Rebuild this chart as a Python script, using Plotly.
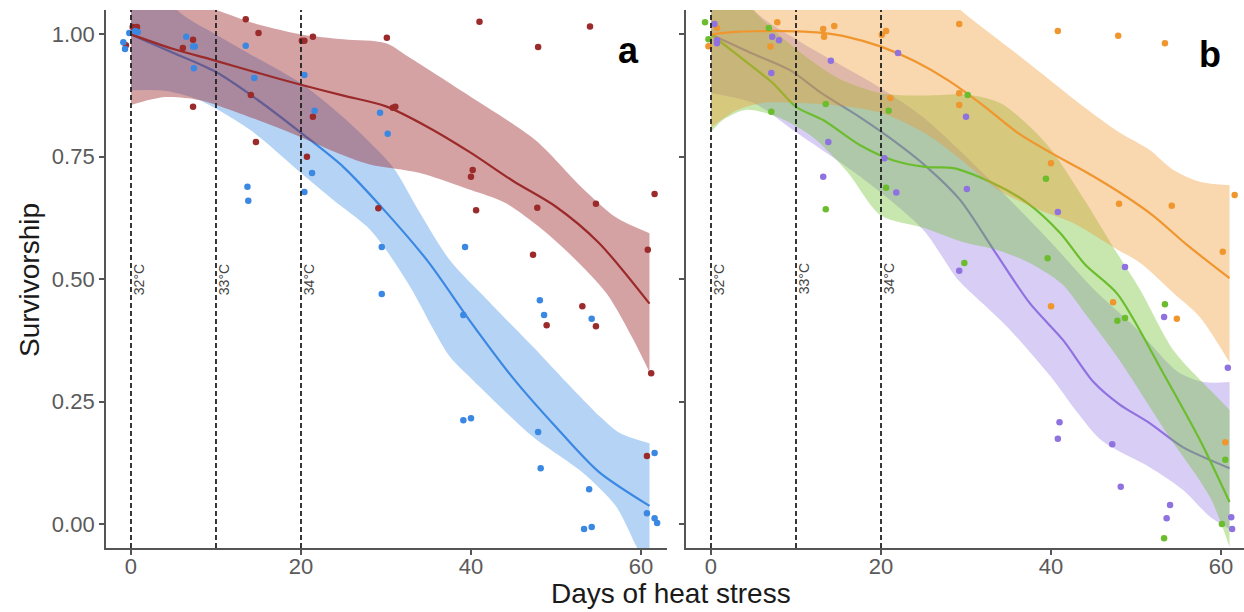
import plotly.graph_objects as go

# ---------------- Panel a ----------------
red_x = [-0.6, 0.2, 0.7, 6.1, 7.3, 7.3, 13.5, 15.0, 14.1, 14.7, 20.1, 20.4, 21.4, 20.7, 21.4,
         30.1, 30.8, 31.1, 29.1, 41.0, 54.0, 47.9, 40.2, 40.0, 40.6, 47.8, 54.7, 61.6, 60.8,
         47.3, 53.1, 48.9, 54.7, 61.2, 60.7]
red_y = [0.978, 1.015, 1.015, 0.972, 0.989, 0.852, 1.031, 1.003, 0.876, 0.780, 0.987, 0.987, 0.995, 0.750, 0.832,
         0.993, 0.850, 0.852, 0.645, 1.026, 1.016, 0.974, 0.723, 0.709, 0.641, 0.646, 0.654, 0.674, 0.560,
         0.550, 0.445, 0.406, 0.404, 0.308, 0.139]

blue_x = [-0.9, -0.7, -0.2, 0.5, 0.8, 6.5, 7.5, 7.3, 7.4, 13.5, 14.5, 13.7, 13.8, 20.4, 21.6, 21.3, 20.4,
          29.3, 30.2, 29.5, 29.5, 39.3, 39.1, 39.1, 40.0, 48.1, 48.6, 47.9, 48.2, 54.2, 53.9, 53.3, 54.2,
          61.6, 60.7, 61.6, 61.9]
blue_y = [0.984, 0.970, 1.003, 1.007, 1.005, 0.995, 0.975, 0.975, 0.931, 0.977, 0.911, 0.689, 0.660, 0.917, 0.844, 0.717, 0.678,
          0.840, 0.797, 0.566, 0.470, 0.566, 0.427, 0.212, 0.216, 0.457, 0.427, 0.188, 0.114, 0.419, 0.071, -0.010, -0.006,
          0.145, 0.022, 0.012, 0.002]

red_fit_x = [0, 5, 10, 15, 20, 25, 30, 35, 40, 45, 50, 55, 61]
red_fit_y = [1.0, 0.970, 0.946, 0.921, 0.897, 0.875, 0.853, 0.810, 0.758, 0.700, 0.648, 0.575, 0.450]
red_hi_x = [0, 5, 10, 15, 20, 25, 30, 33, 40, 47.6, 53, 57, 61]
red_hi_y = [1.15, 1.08, 1.05, 1.02, 1.0, 0.99, 0.982, 0.95, 0.872, 0.784, 0.688, 0.627, 0.594]
red_lo_x = [0, 4, 8, 14, 20, 24, 28, 34, 40, 44, 48, 52, 56, 59, 61]
red_lo_y = [0.856, 0.872, 0.866, 0.831, 0.790, 0.760, 0.735, 0.717, 0.682, 0.656, 0.607, 0.545, 0.470, 0.380, 0.310]

blue_fit_x = [0, 5, 10, 15, 20, 25, 30, 35, 40, 45, 50, 55, 61]
blue_fit_y = [1.0, 0.962, 0.923, 0.865, 0.799, 0.729, 0.637, 0.535, 0.412, 0.297, 0.198, 0.107, 0.037]
blue_hi_x = [0, 5.4, 10, 15, 20, 25, 30.8, 33.6, 37.5, 41.9, 47.3, 51.3, 55.2, 57.5, 61]
blue_hi_y = [1.20, 1.05, 1.0, 0.95, 0.90, 0.83, 0.729, 0.647, 0.539, 0.458, 0.362, 0.288, 0.219, 0.186, 0.165]
blue_lo_x = [0, 4, 8, 14, 20, 23.8, 27.8, 30, 33, 35.5, 37.5, 40.2, 47.3, 53.2, 57.1, 59.5, 61]
blue_lo_y = [0.886, 0.885, 0.866, 0.805, 0.717, 0.662, 0.607, 0.560, 0.480, 0.400, 0.342, 0.294, 0.178, 0.104, 0.035, -0.047, -0.090]

# ---------------- Panel b ----------------
orange_x = [-0.3, 0.7, 7.8, 7.0, 13.2, 14.5, 13.3, 20.1, 20.6, 21.1, 29.2, 29.2, 29.2, 40.8, 47.9, 53.4,
            40.0, 48.0, 54.2, 60.2, 61.6, 40.0, 47.3, 54.8, 60.5]
orange_y = [0.976, 1.013, 1.025, 0.975, 1.011, 1.017, 0.995, 0.999, 1.007, 0.870, 1.021, 0.880, 0.856, 1.007, 0.997, 0.982,
            0.737, 0.654, 0.650, 0.556, 0.672, 0.445, 0.453, 0.419, 0.167]

green_x = [-0.7, -0.3, 6.8, 7.1, 13.5, 13.5, 20.9, 20.6, 30.2, 29.8, 39.4, 39.6, 47.8, 48.7, 53.4, 53.3, 60.5, 60.1]
green_y = [1.025, 0.990, 1.013, 0.842, 0.858, 0.643, 0.844, 0.687, 0.876, 0.533, 0.705, 0.543, 0.415, 0.421, 0.449, -0.029, 0.131, 0.000]

purple_x = [0.4, 0.7, 0.7, 7.2, 8.0, 7.1, 14.1, 13.8, 13.2, 22.0, 20.4, 21.8, 30.0, 30.1, 29.2, 40.8, 48.7,
            53.3, 60.8, 41.0, 40.8, 47.2, 48.2, 54.0, 53.6, 61.2, 61.3]
purple_y = [1.021, 0.988, 0.982, 0.995, 0.988, 0.921, 0.946, 0.780, 0.709, 0.962, 0.747, 0.677, 0.832, 0.684, 0.517, 0.637, 0.525,
            0.423, 0.319, 0.208, 0.174, 0.163, 0.076, 0.039, 0.012, 0.014, -0.010]

orange_fit_x = [0, 3, 7, 10, 13, 16, 20, 24, 28, 32, 36, 40, 44, 48, 52, 56, 61]
orange_fit_y = [1.0, 1.005, 1.007, 1.006, 1.003, 0.995, 0.975, 0.945, 0.905, 0.855, 0.800, 0.758, 0.720, 0.678, 0.630, 0.570, 0.502]
orange_hi_x = [0, 10, 20, 26, 30, 33, 36, 40, 44, 48, 51.6, 54.4, 57.5, 61]
orange_hi_y = [1.25, 1.20, 1.15, 1.10, 1.04, 1.0, 0.96, 0.905, 0.850, 0.800, 0.764, 0.723, 0.699, 0.692]
orange_lo_x = [0, 3, 6, 10, 15, 20, 25, 29, 34, 38.7, 42.6, 47.3, 50.5, 54.4, 57.5, 61]
orange_lo_y = [0.81, 0.845, 0.86, 0.86, 0.855, 0.84, 0.80, 0.75, 0.68, 0.641, 0.615, 0.566, 0.533, 0.472, 0.423, 0.330]

green_fit_x = [0, 3.4, 7.3, 10, 13.2, 17.5, 21.4, 25.4, 28.5, 33.2, 37.2, 41.1, 44, 47.8, 53.2, 57.5, 61]
green_fit_y = [1.0, 0.954, 0.900, 0.852, 0.825, 0.774, 0.743, 0.729, 0.727, 0.696, 0.656, 0.594, 0.530, 0.470, 0.308, 0.172, 0.045]
green_hi_x = [0, 5, 10, 15, 20, 25, 30, 34, 37, 40, 44, 47.3, 50.5, 54.4, 58.7, 61]
green_hi_y = [1.20, 1.05, 0.97, 0.91, 0.88, 0.875, 0.877, 0.86, 0.82, 0.765, 0.66, 0.566, 0.478, 0.355, 0.274, 0.233]
green_lo_x = [0, 1.4, 4.2, 8, 12, 16, 20, 25, 29.6, 33.6, 37.5, 41.3, 44, 47.8, 53.6, 58.7, 61]
green_lo_y = [0.80, 0.825, 0.846, 0.83, 0.79, 0.72, 0.63, 0.605, 0.576, 0.56, 0.533, 0.49, 0.43, 0.341, 0.186, 0.055, -0.047]

purple_fit_x = [0, 5, 9.3, 13, 17.5, 21.4, 25.4, 29.3, 33.4, 37.5, 41.4, 45, 48, 51.6, 55.5, 61]
purple_fit_y = [1.0, 0.960, 0.927, 0.880, 0.831, 0.784, 0.729, 0.662, 0.556, 0.451, 0.376, 0.290, 0.245, 0.206, 0.157, 0.114]
purple_hi_x = [0, 5, 10, 15, 20, 25, 30, 35, 40, 45, 50, 55, 58, 61]
purple_hi_y = [1.20, 1.05, 0.99, 0.94, 0.89, 0.83, 0.75, 0.665, 0.575, 0.48, 0.40, 0.31, 0.29, 0.29]
purple_lo_x = [0, 5, 10, 17.5, 25, 29, 32, 35, 40, 43, 46, 51.6, 55.5, 58.7, 61]
purple_lo_y = [0.88, 0.86, 0.80, 0.71, 0.60, 0.50, 0.45, 0.40, 0.30, 0.23, 0.17, 0.116, 0.07, 0.015, -0.01]

# reference lines
vline_days = [0, 10, 20]
vline_labels = ["32°C", "33°C", "34°C"]
x_ticks = [0, 20, 40, 60]
y_ticks = [0.0, 0.25, 0.50, 0.75, 1.00]
y_tick_text = ["0.00", "0.25", "0.50", "0.75", "1.00"]

W, H = 1244, 612
X_RANGE_A = [-2.94, 63.06]
X_RANGE_B = [-2.94, 62.7]
Y_RANGE = [-0.049, 1.0498]

FONT = "Liberation Sans, Arial, sans-serif"

fig = go.Figure()


def rgba(hexc, a):
    hexc = hexc.lstrip('#')
    r, g, b = int(hexc[0:2], 16), int(hexc[2:4], 16), int(hexc[4:6], 16)
    return f"rgba({r},{g},{b},{a})"


def add_group(xa, ya, fit_x, fit_y, hi_x, hi_y, lo_x, lo_y, line_col, fill_col, alpha):
    fig.add_trace(go.Scatter(x=hi_x, y=hi_y, xaxis=xa, yaxis=ya, mode="lines",
                             line=dict(width=0, shape="spline", smoothing=0.8, color="rgba(0,0,0,0)"),
                             hoverinfo="skip", showlegend=False))
    fig.add_trace(go.Scatter(x=lo_x, y=lo_y, xaxis=xa, yaxis=ya, mode="lines",
                             line=dict(width=0, shape="spline", smoothing=0.8, color="rgba(0,0,0,0)"),
                             fill="tonexty", fillcolor=rgba(fill_col, alpha),
                             hoverinfo="skip", showlegend=False))
    fig.add_trace(go.Scatter(x=fit_x, y=fit_y, xaxis=xa, yaxis=ya, mode="lines",
                             line=dict(width=2.2, shape="spline", smoothing=0.8, color=line_col),
                             hoverinfo="skip", showlegend=False))


def add_points(xa, ya, px, py, col):
    fig.add_trace(go.Scatter(x=px, y=py, xaxis=xa, yaxis=ya, mode="markers",
                             marker=dict(size=6.5, color=col, line=dict(width=0)),
                             hoverinfo="skip", showlegend=False, cliponaxis=False))


RED, BLUE = "#9b2a2a", "#3b88e3"
ORANGE, GREEN, PURPLE = "#f0962e", "#6cbd2e", "#8f72e0"

add_group("x", "y", blue_fit_x, blue_fit_y, blue_hi_x, blue_hi_y, blue_lo_x, blue_lo_y, BLUE, "#3d8ce6", 0.38)
add_group("x", "y", red_fit_x, red_fit_y, red_hi_x, red_hi_y, red_lo_x, red_lo_y, RED, "#9b2226", 0.42)
add_points("x", "y", red_x, red_y, RED)
add_points("x", "y", blue_x, blue_y, BLUE)

add_group("x2", "y2", purple_fit_x, purple_fit_y, purple_hi_x, purple_hi_y, purple_lo_x, purple_lo_y, PURPLE, "#967ce6", 0.38)
add_group("x2", "y2", green_fit_x, green_fit_y, green_hi_x, green_hi_y, green_lo_x, green_lo_y, GREEN, "#6cbf2e", 0.38)
add_group("x2", "y2", orange_fit_x, orange_fit_y, orange_hi_x, orange_hi_y, orange_lo_x, orange_lo_y, ORANGE, "#f0962e", 0.38)
add_points("x2", "y2", orange_x, orange_y, ORANGE)
add_points("x2", "y2", green_x, green_y, GREEN)
add_points("x2", "y2", purple_x, purple_y, PURPLE)

# dashed reference lines + labels
shapes = []
annotations = []
for xr, yr in (("x", "y"), ("x2", "y2")):
    for d, lab in zip(vline_days, vline_labels):
        shapes.append(dict(type="line", xref=xr, yref=f"{yr} domain", x0=d, x1=d, y0=0, y1=1,
                           line=dict(color="#222222", width=1.8, dash="5px,3px"), layer="above"))
        annotations.append(dict(x=d, y=0.5, xref=xr, yref=yr, text=lab, showarrow=False, textangle=-90,
                                xanchor="center", yanchor="middle", xshift=8,
                                font=dict(family=FONT, size=14, color="#444444")))

annotations.append(dict(x=58.5, y=0.968, xref="x", yref="y", text="<b>a</b>", showarrow=False,
                        xanchor="center", yanchor="middle",
                        font=dict(family=FONT, size=36, color="black")))
annotations.append(dict(x=58.7, y=0.958, xref="x2", yref="y2", text="<b>b</b>", showarrow=False,
                        xanchor="center", yanchor="middle",
                        font=dict(family=FONT, size=36, color="black")))
annotations.append(dict(x=30 / W, y=1 - 280 / H, xref="paper", yref="paper", text="Survivorship",
                        showarrow=False, textangle=-90, xanchor="center", yanchor="middle",
                        font=dict(family=FONT, size=28, color="#1a1a1a")))
annotations.append(dict(x=671 / W, y=1 - 593 / H, xref="paper", yref="paper", text="Days of heat stress",
                        showarrow=False, xanchor="center", yanchor="middle", borderpad=0,
                        font=dict(family=FONT, size=28, color="#1a1a1a")))

ydom = [1 - 548 / H, 1 - 10 / H]
axis_common = dict(showgrid=False, zeroline=False, showline=True, linecolor="#555555", linewidth=1.8,
                   ticks="outside", ticklen=5, tickwidth=1.5, tickcolor="#555555",
                   tickfont=dict(family=FONT, size=22, color="#5a5a5a"))

fig.update_layout(
    width=W, height=H, margin=dict(l=0, r=0, t=0, b=0),
    paper_bgcolor="white", plot_bgcolor="white", showlegend=False,
    xaxis=dict(domain=[106 / W, 667 / W], range=X_RANGE_A, tickvals=x_ticks, anchor="y",
               ticklabelstandoff=-7, **axis_common),
    yaxis=dict(domain=ydom, range=Y_RANGE, tickvals=y_ticks, ticktext=y_tick_text, anchor="x", **axis_common),
    xaxis2=dict(domain=[686 / W, 1.0], range=X_RANGE_B, tickvals=x_ticks, anchor="y2",
                ticklabelstandoff=-7, **axis_common),
    yaxis2=dict(domain=ydom, range=Y_RANGE, tickvals=y_ticks, showticklabels=False, anchor="x2", **axis_common),
    shapes=shapes, annotations=annotations,
)

fig.write_html("out.html")
